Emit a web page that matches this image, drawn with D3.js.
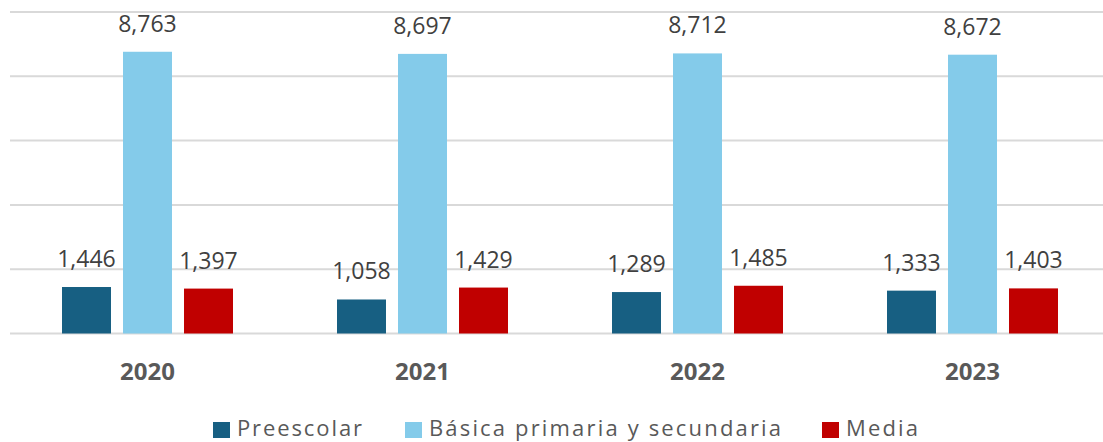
<!DOCTYPE html>
<html><head><meta charset="utf-8">
<script src="https://cdn.jsdelivr.net/npm/d3@7"></script>
<style>body{margin:0;background:#fff}svg{display:block}</style>
</head><body>
<svg id="c" width="1103" height="442"></svg>
<script>
const years = ["2020","2021","2022","2023"];
const seriesNames = ["Preescolar","Básica primaria y secundaria","Media"];
const preescolar = [1446,1058,1289,1333];
const basica = [8763,8697,8712,8672];
const media = [1397,1429,1485,1403];
const yTicks = [0,2000,4000,6000,8000,10000];
const colors = ["#175f82","#84cbea","#c00000"];

const svg = d3.select("#c");
const font = "'Open Sans', sans-serif";
const x = d3.scaleBand().domain(years).range([10,1110]).paddingInner(0).paddingOuter(0);
const y = d3.scaleLinear().domain([0,10000]).range([333.5,12]);
const xs = d3.scaleBand().domain(seriesNames).range([-85.5,85.5]).paddingInner(0.197).paddingOuter(0);

svg.append("g").selectAll("line").data(yTicks).join("line")
  .attr("x1",10).attr("x2",1103)
  .attr("y1",d=>y(d)).attr("y2",d=>y(d))
  .attr("stroke","#d9d9d9").attr("stroke-width",2);

const data = [preescolar,basica,media];
const g = svg.append("g");
seriesNames.forEach((s,i)=>{
  years.forEach((yr,j)=>{
    const v = data[i][j];
    const cx = x(yr)+x.bandwidth()/2;
    g.append("rect").attr("x",cx+xs(s)).attr("width",xs.bandwidth())
      .attr("y",y(v)).attr("height",y(0)-y(v)).attr("fill",colors[i]);
    g.append("text").attr("x",cx+xs(s)+xs.bandwidth()/2).attr("y",y(v)-20)
      .attr("text-anchor","middle").attr("font-family",font).attr("font-size",23)
      .attr("fill","#404040").text(d3.format(",")(v));
  });
});

svg.append("g").selectAll("text").data(years).join("text")
  .attr("x",d=>x(d)+x.bandwidth()/2).attr("y",380)
  .attr("text-anchor","middle").attr("font-family",font).attr("font-weight","bold")
  .attr("font-size",24).attr("fill","#595959").text(d=>d);

const legX = [213,405,822];
const legW = [125,352,72];
const lg = svg.append("g");
seriesNames.forEach((s,i)=>{
  lg.append("rect").attr("x",legX[i]).attr("y",422).attr("width",17).attr("height",16).attr("fill",colors[i]);
  lg.append("text").attr("x",legX[i]+24).attr("y",436).attr("font-family",font)
    .attr("font-size",22).attr("fill","#595959")
    .attr("textLength",legW[i]).attr("lengthAdjust","spacing").text(s);
});
</script>
</body></html>
